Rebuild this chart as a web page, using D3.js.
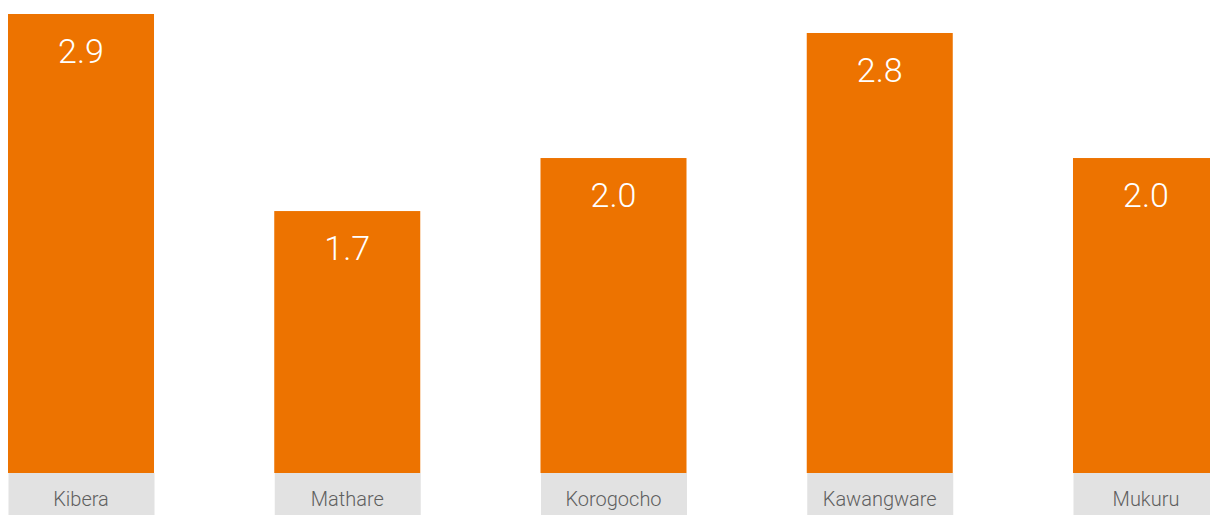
<!DOCTYPE html>
<html>
<head>
<meta charset="utf-8">
<script src="https://cdn.jsdelivr.net/npm/d3@7"></script>
<style>
  html, body { margin: 0; padding: 0; background: #fff; }
  svg { display: block; overflow: hidden; }
</style>
</head>
<body>
<div id="chart"></div>
<script>
(function () {
  // data
  const categories = ["Kibera", "Mathare", "Korogocho", "Kawangware", "Mukuru"];
  const values = [2.9, 1.655, 1.99, 2.78, 1.99];

  const width = 1210;
  const height = 515;
  const baseline = 473;

  const svg = d3
    .select("#chart")
    .append("svg")
    .attr("width", width)
    .attr("height", height);

  const data = categories.map((c, i) => ({ cat: c, val: values[i] }));

  // X scale, last bar runs past the right edge
  const x = d3
    .scaleBand()
    .domain(categories)
    .range([8, 1219])
    .paddingInner(0.4516)
    .paddingOuter(0);

  const y = d3.scaleLinear().domain([0, 2.9]).range([baseline, 14]);

  // gray label boxes
  svg
    .selectAll(".lbl-box")
    .data(data)
    .join("rect")
    .attr("class", "lbl-box")
    .attr("x", (d) => x(d.cat) + 0.5)
    .attr("y", baseline)
    .attr("width", x.bandwidth())
    .attr("height", height - baseline)
    .attr("fill", "#e2e2e2");

  // bars
  svg
    .selectAll(".bar")
    .data(data)
    .join("rect")
    .attr("class", "bar")
    .attr("x", (d) => x(d.cat))
    .attr("y", (d) => y(d.val))
    .attr("width", x.bandwidth())
    .attr("height", (d) => baseline - y(d.val))
    .attr("fill", "#ed7300");

  // values inside bars
  svg
    .selectAll(".val")
    .data(data)
    .join("text")
    .attr("class", "val")
    .attr("x", (d) => x(d.cat) + x.bandwidth() / 2)
    .attr("y", (d) => y(d.val) + 49)
    .attr("text-anchor", "middle")
    .attr("font-family", "Roboto, sans-serif")
    .attr("font-size", 34)
    .attr("font-weight", 300)
    .attr("fill", "#fff")
    .text((d) => d3.format(".1f")(d.val));

  // category labels
  svg
    .selectAll(".cat")
    .data(data)
    .join("text")
    .attr("class", "cat")
    .attr("x", (d) => x(d.cat) + x.bandwidth() / 2)
    .attr("y", 506)
    .attr("text-anchor", "middle")
    .attr("font-family", "Roboto, sans-serif")
    .attr("font-size", 20)
    .attr("font-weight", 300)
    .attr("fill", "#5f5f5f")
    .text((d) => d.cat);
})();
</script>
</body>
</html>
